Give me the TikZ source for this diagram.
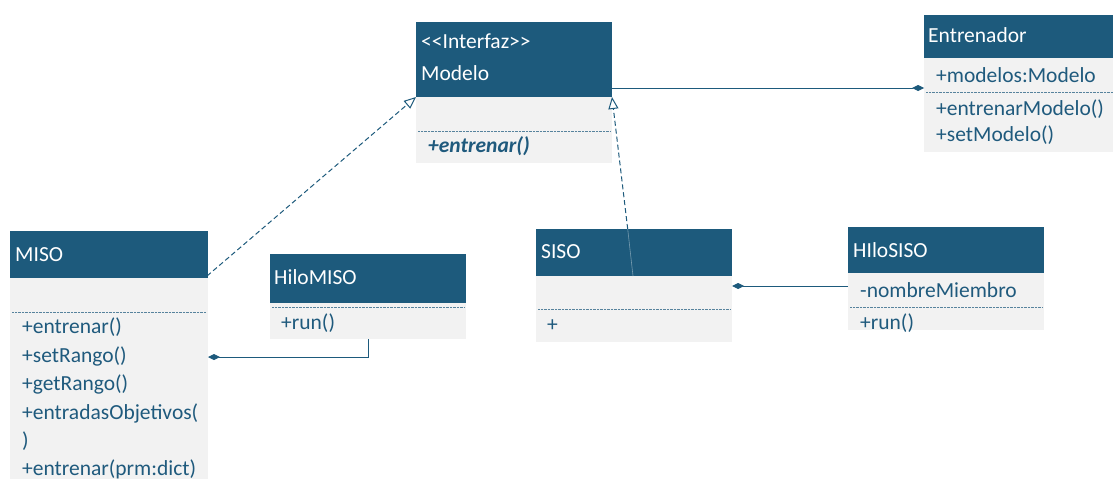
\documentclass[tikz,border=0pt]{standalone}
\usepackage{fontspec}
\setmainfont{Carlito}
\usetikzlibrary{arrows.meta}
\definecolor{hdr}{HTML}{1D5A7C}
\definecolor{bod}{HTML}{F2F2F2}
\definecolor{txt}{HTML}{1F5A7D}
\begin{document}
\begin{tikzpicture}[x=1pt,y=-1pt,
  cls/.style={rectangle, inner sep=0pt, outer sep=0pt, anchor=north west},
  hd/.style={cls, fill=hdr},
  bd/.style={cls, fill=bod},
  tt/.style={anchor=west, inner sep=0pt, text=white, font=\fontsize{21.5}{25}\selectfont, text height=15pt, text depth=5pt},
  mt/.style={anchor=west, inner sep=0pt, text=txt, font=\fontsize{21.5}{25}\selectfont, text height=15pt, text depth=5pt},
  sep/.style={draw=txt!75, line width=1pt, dash pattern=on 0.7pt off 0.7pt},
  conn/.style={draw=hdr, line width=1pt},
  dconn/.style={draw=hdr, line width=1pt, dash pattern=on 5pt off 3pt},
  real/.style={-{Triangle[open, length=12pt, width=10pt, fill=white]}},
  comp/.style={-{Diamond[length=12pt, width=6pt]}}
]
\useasboundingbox (0,0) rectangle (1113,479);
\fill[white] (0,0) rectangle (1113,479);

% Modelo
\node[hd, minimum width=196pt, minimum height=75pt] (modH) at (416,22) {};
\node[bd, minimum width=196pt, minimum height=66pt] (modB) at (416,97) {};
\draw[sep] (418,131) -- (610,131);
\node[tt] (modT1) at (421,43) {{<}{<}Interfaz{>}{>}};
\node[tt] (modT2) at (421,75) {Modelo};
\node[mt, font=\fontsize{21.5}{25}\selectfont\bfseries\itshape] (modM1) at (428,147) {+entrenar()};

% Entrenador
\node[hd, minimum width=189pt, minimum height=43pt] (entH) at (924,15) {};
\node[bd, minimum width=189pt, minimum height=94pt] (entB) at (924,58) {};
\draw[sep] (926,92) -- (1113,92);
\node[tt] (entT) at (928,37) {Entrenador};
\node[mt] (entA1) at (936,77) {+modelos:Modelo};
\node[mt] (entM1) at (936,110) {+entrenarModelo()};
\node[mt] (entM2) at (936,136) {+setModelo()};

% MISO
\node[hd, minimum width=198pt, minimum height=47pt] (misoH) at (10,231) {};
\node[bd, minimum width=198pt, minimum height=201pt] (misoB) at (10,278) {};
\draw[sep] (12,312) -- (206,312);
\node[tt] (misoT) at (15,256) {MISO};
\node[mt] (misoM1) at (22,328) {+entrenar()};
\node[mt] (misoM2) at (22,357) {+setRango()};
\node[mt] (misoM3) at (22,385) {+getRango()};
\node[mt] (misoM4) at (22,414) {+entradasObjetivos(};
\node[mt] (misoM5) at (22,442) {)};
\node[mt] (misoM6) at (22,470) {+entrenar(prm:dict)};

% HiloMISO
\node[hd, minimum width=196pt, minimum height=49pt] (hmH) at (270,254) {};
\node[bd, minimum width=196pt, minimum height=36pt] (hmB) at (270,303) {};
\draw[sep] (272,307) -- (464,307);
\node[tt] (hmT) at (274,279) {HiloMISO};
\node[mt] (hmM1) at (281,324) {+run()};

% SISO
\node[hd, minimum width=196pt, minimum height=47pt] (sisoH) at (536,229) {};
\node[bd, minimum width=196pt, minimum height=66pt] (sisoB) at (536,276) {};
\draw[sep] (538,309) -- (730,309);
\node[tt] (sisoT) at (541,253) {SISO};
\node[mt] (sisoM1) at (547,326) {+};

% HIloSISO
\node[hd, minimum width=196pt, minimum height=46pt] (hsH) at (848,227) {};
\node[bd, minimum width=196pt, minimum height=57pt] (hsB) at (848,273) {};
\draw[sep] (850,307) -- (1042,307);
\node[tt] (hsT) at (853,252) {HIloSISO};
\node[mt] (hsA1) at (860,292) {-nombreMiembro};
\node[mt] (hsM1) at (860,324) {+run()};

% connectors
\draw[dconn, real] ([xshift=-1pt,yshift=2pt]misoH.south east) -- (modH.south west);

\coordinate (sisoP) at (633,276);
\coordinate (sisoQ) at (627.7,229);
\draw[draw=hdr!60!white, line width=0.6pt] (sisoP) -- (sisoQ);
\draw[dconn, real] (sisoQ) -- (modH.south east);

\coordinate (m1) at ([yshift=9pt]modH.south east);
\draw[conn, comp] (m1) -- (m1 -| entB.west);

\coordinate (mj) at (misoB.east |- 0,357);
\draw[conn, comp] (hmB.south) |- (mj);

\coordinate (hs) at (hsB.west |- 0,286);
\draw[conn, comp] (hs) -- (hs -| sisoB.east);
\end{tikzpicture}
\end{document}
